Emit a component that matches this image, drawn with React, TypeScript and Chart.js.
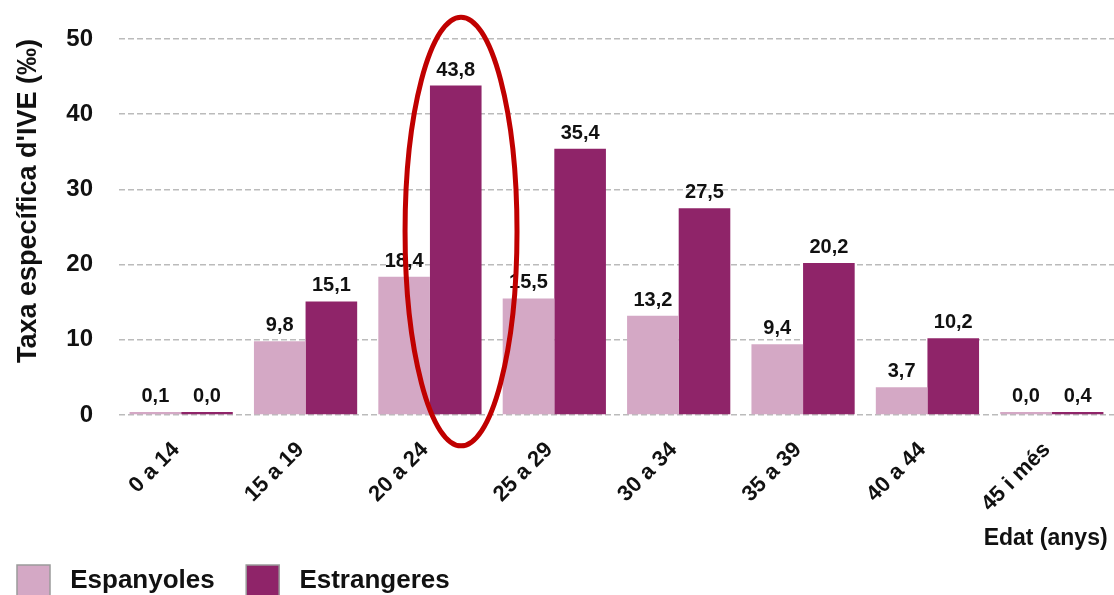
import React, { useEffect, useRef } from "react";
import { Chart, registerables } from "chart.js";

Chart.register(...registerables);

const categories = ["0 a 14", "15 a 19", "20 a 24", "25 a 29", "30 a 34", "35 a 39", "40 a 44", "45 i més"];
const espanyoles = [0.1, 9.8, 18.4, 15.5, 13.2, 9.4, 3.7, 0.0];
const estrangeres = [0.0, 15.1, 43.8, 35.4, 27.5, 20.2, 10.2, 0.4];
const seriesNames = ["Espanyoles", "Estrangeres"];
const seriesColors = ["#D4A8C5", "#8F2469"];
const yTitle = "Taxa específica d'IVE (‰)";
const xTitle = "Edat (anys)";
const highlightIndex = 2;
const ellipseTop = 52.9;
const ellipseBottom = -4.1;

const FONT = "'Liberation Sans', Arial, sans-serif";

const fmt = (v: number) => v.toFixed(1).replace(".", ",");

const labelPlugin = {
  id: "valueLabels",
  afterDatasetsDraw(chart: any) {
    const ctx = chart.ctx;
    ctx.save();
    ctx.font = `bold 20px ${FONT}`;
    ctx.fillStyle = "#111";
    ctx.textAlign = "center";
    ctx.textBaseline = "alphabetic";
    chart.data.datasets.forEach((ds: any, di: number) => {
      const meta = chart.getDatasetMeta(di);
      meta.data.forEach((bar: any, i: number) => {
        ctx.fillText(fmt(ds.data[i]), bar.x, bar.y - 10);
      });
    });
    ctx.restore();
  },
};

const ellipsePlugin = {
  id: "highlightEllipse",
  afterDraw(chart: any) {
    const ctx = chart.ctx;
    const xs = chart.scales.x;
    const ys = chart.scales.y;
    const catW = xs.getPixelForValue(1) - xs.getPixelForValue(0);
    const cx = xs.getPixelForValue(highlightIndex) + catW * 0.25;
    const yTop = ys.getPixelForValue(ellipseTop);
    const yBot = ys.getPixelForValue(ellipseBottom);
    ctx.save();
    ctx.strokeStyle = "#C00000";
    ctx.lineWidth = 5;
    ctx.beginPath();
    ctx.ellipse(cx, (yTop + yBot) / 2, catW * 0.45, (yBot - yTop) / 2, 0, 0, Math.PI * 2);
    ctx.stroke();
    ctx.restore();
  },
};

export default function App() {
  const ref = useRef<HTMLCanvasElement | null>(null);
  useEffect(() => {
    document.body.style.margin = "0";
    const chart = new Chart(ref.current as HTMLCanvasElement, {
      type: "bar",
      data: {
        labels: categories,
        datasets: [
          { label: seriesNames[0], data: espanyoles, backgroundColor: seriesColors[0], minBarLength: 3, barPercentage: 1, categoryPercentage: 0.83 },
          { label: seriesNames[1], data: estrangeres, backgroundColor: seriesColors[1], minBarLength: 3, barPercentage: 1, categoryPercentage: 0.83 },
        ],
      },
      options: {
        animation: false,
        responsive: false,
        maintainAspectRatio: false,
        layout: { padding: { left: 0, right: 0, top: 39, bottom: 0 } },
        scales: {
          x: {
            grid: { display: false },
            border: { display: false },
            afterFit(scale: any) {
              scale.height = 133;
              scale.paddingLeft = 0;
              scale.paddingRight = 0;
            },
            ticks: {
              minRotation: 45,
              maxRotation: 45,
              color: "#111",
              font: { family: FONT, size: 22, weight: "bold" },
              padding: 14,
              labelOffset: -5,
            },
            title: {
              display: true,
              text: xTitle + " ",
              align: "end",
              color: "#111",
              font: { family: FONT, size: 23, weight: "bold" },
              padding: { top: 0, bottom: -4 },
            },
          },
          y: {
            min: 0,
            max: 50,
            afterFit(scale: any) {
              scale.width = 119;
              scale.paddingTop = 0;
              scale.paddingBottom = 0;
            },
            ticks: {
              stepSize: 10,
              color: "#111",
              font: { family: FONT, size: 24, weight: "bold" },
              padding: 26,
            },
            grid: { color: "#BBBBBB", lineWidth: 1.5, drawTicks: false },
            border: { display: false, dash: [6, 3] },
            title: {
              display: true,
              text: yTitle,
              align: "end",
              color: "#111",
              font: { family: FONT, size: 27, weight: "bold" },
              padding: { top: 12, bottom: 0 },
            },
          },
        },
        plugins: {
          tooltip: { enabled: false },
          legend: {
            position: "bottom",
            align: "start",
            labels: {
              boxWidth: 33,
              boxHeight: 32,
              padding: 17,
              color: "#111",
              font: { family: FONT, size: 26, weight: "bold" },
              generateLabels(chart: any) {
                const items = Chart.defaults.plugins.legend.labels.generateLabels(chart);
                items.forEach((it: any) => {
                  it.text = " " + it.text + "  ";
                  it.strokeStyle = "#9A9A9A";
                  it.lineWidth = 1.5;
                });
                return items;
              },
            },
          },
        },
      },
      plugins: [labelPlugin, ellipsePlugin],
    } as any);
    return () => chart.destroy();
  }, []);
  return (
    <div style={{ position: "fixed", left: 0, top: 0, width: 1114, height: 595, overflow: "hidden", background: "#fff" }}>
      <canvas ref={ref} width={1114} height={607} style={{ display: "block" }} />
    </div>
  );
}
